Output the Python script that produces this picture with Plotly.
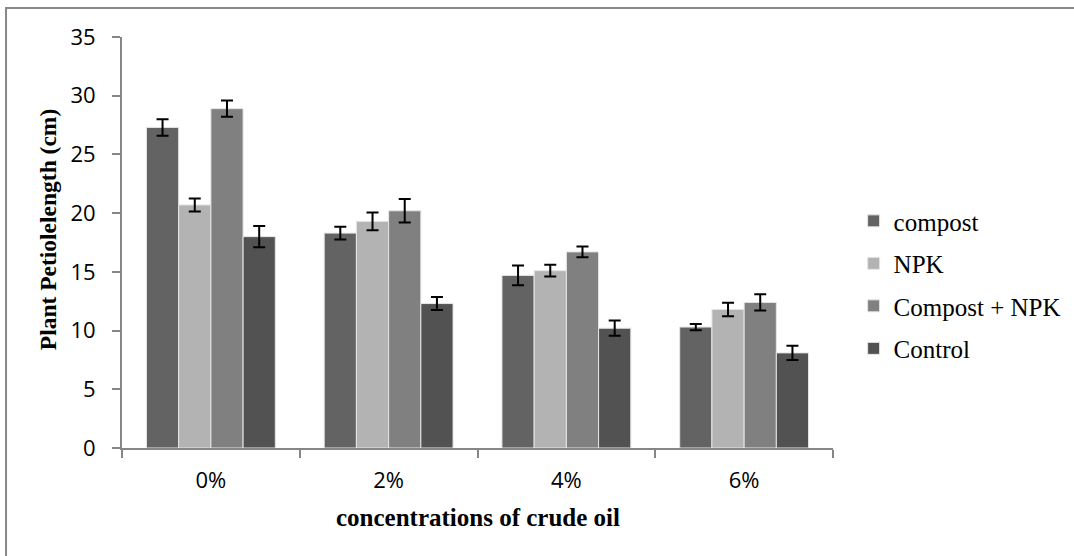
import plotly.graph_objects as go

# Crude oil concentrations (categories)
concentrations = ["0%", "2%", "4%", "6%"]

# Mean petiole length (cm) per treatment
compost = [27.3, 18.3, 14.7, 10.3]
npk = [20.7, 19.3, 15.1, 11.8]
compost_npk = [28.9, 20.2, 16.7, 12.4]
control = [18.0, 12.3, 10.2, 8.1]

# Standard errors
compost_err = [0.7, 0.55, 0.85, 0.27]
npk_err = [0.55, 0.75, 0.5, 0.57]
compost_npk_err = [0.7, 1.0, 0.45, 0.7]
control_err = [0.9, 0.55, 0.65, 0.6]

series = [
    ("compost", compost, compost_err, "#636363"),
    ("NPK", npk, npk_err, "#b3b3b3"),
    ("Compost + NPK", compost_npk, compost_npk_err, "#808080"),
    ("Control", control, control_err, "#525252"),
]

serif = "Liberation Serif, Times New Roman, serif"

fig = go.Figure()
for name, vals, errs, color in series:
    fig.add_trace(go.Bar(
        x=concentrations, y=vals, name=name, legendgroup=name,
        marker=dict(color=color, line=dict(color="#e6e6e6", width=1)),
        error_y=dict(type="data", array=errs, visible=True,
                     color="black", thickness=2, width=6),
    ))

axis_color = "#868686"
tick_font = dict(family="Open Sans", size=22, color="black")

fig.update_layout(
    width=1074, height=556,
    paper_bgcolor="white", plot_bgcolor="white",
    margin=dict(l=122, r=241, t=37, b=108, autoexpand=False),
    barmode="group", bargap=0.275, bargroupgap=0,
    showlegend=True,
    legend=dict(
        x=1.029, xanchor="left", y=0.608, yanchor="top",
        font=dict(family=serif, size=25, color="black"),
        traceorder="grouped", tracegroupgap=7,
        bgcolor="rgba(0,0,0,0)",
    ),
    xaxis=dict(
        showline=True, linecolor=axis_color, linewidth=2,
        ticks="outside", tickcolor=axis_color, ticklen=8, tickwidth=2,
        tickson="boundaries", showgrid=False, tickfont=tick_font,
        ticklabelstandoff=12,
    ),
    yaxis=dict(
        range=[0, 35], dtick=5, showline=True, linecolor=axis_color,
        linewidth=2, ticks="outside", tickcolor=axis_color, ticklen=8,
        tickwidth=2, showgrid=False, zeroline=False, tickfont=tick_font,
        ticklabelstandoff=12,
    ),
    annotations=[
        dict(text="<b>Plant Petiolelength (cm)</b>", textangle=-90,
             xref="paper", yref="paper", x=-0.104, y=0.53,
             xanchor="center", yanchor="middle",
             showarrow=False, font=dict(family=serif, size=23.5, color="black")),
        dict(text="<b>concentrations of crude oil</b>",
             xref="paper", yref="paper", x=0.5, y=-0.17,
             xanchor="center", yanchor="middle",
             showarrow=False, font=dict(family=serif, size=25, color="black")),
    ],
    shapes=[
        dict(type="rect", xref="paper", yref="paper",
             x0=-0.1631, x1=2.0, y0=-1.0, y1=1.0706,
             line=dict(color="#888888", width=2), fillcolor="rgba(0,0,0,0)",
             layer="below"),
    ],
)

fig.write_html("out.html")
